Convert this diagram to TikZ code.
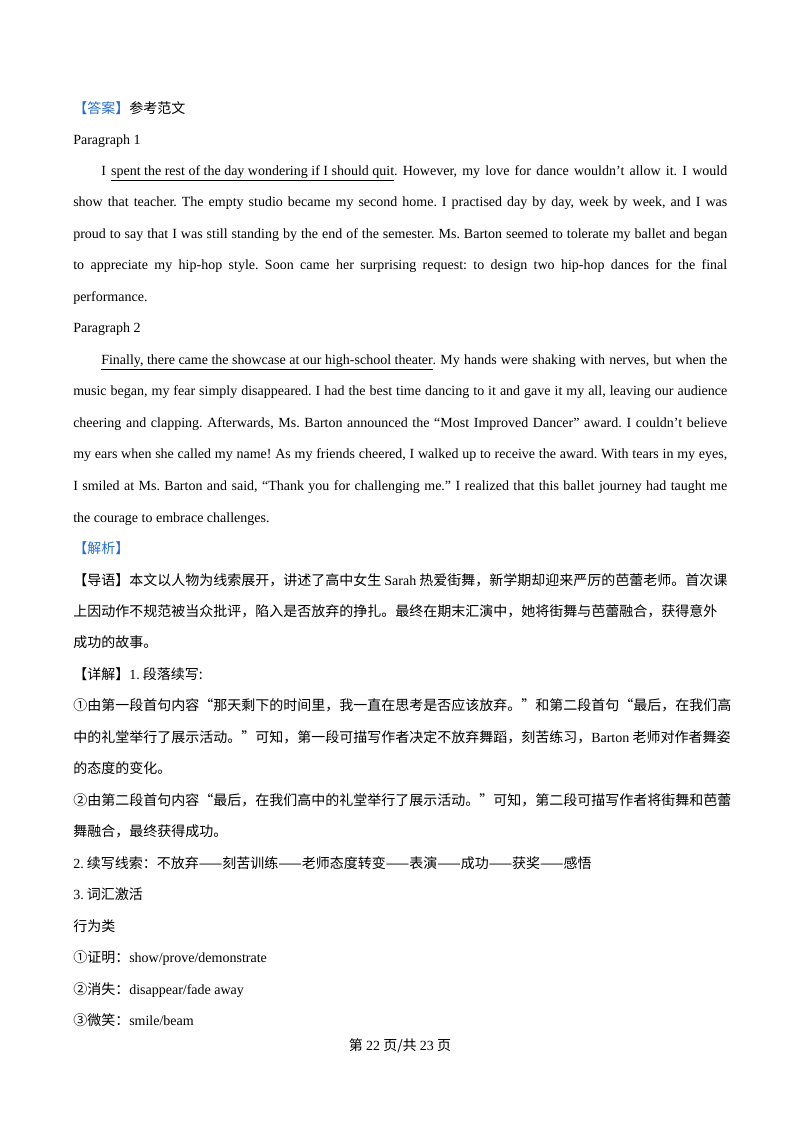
\documentclass[tikz,border=0pt]{standalone}
\usepackage{fontspec}
\setmainfont{Liberation Serif}
\newfontfamily\cjk{Noto Sans CJK SC}
\newfontfamily\en{Liberation Serif}
\definecolor{ansblue}{RGB}{40,110,200}
\frenchspacing
\newcommand{\jl}[1]{\makebox[490.5pt][s]{#1}}
\newcommand{\jli}[1]{\makebox[469.5pt][s]{#1}}
\begin{document}
\begin{tikzpicture}[x=0.75pt,y=-0.75pt,
  ln/.style={anchor=base west,inner sep=0pt,font=\fontsize{10.5pt}{12pt}\selectfont\frenchspacing},
  zh/.style={ln,font=\fontsize{10.5pt}{12pt}\selectfont\cjk}]
\useasboundingbox (0,0) rectangle (800,1132);
\node[zh] (a1) at (73,113) {\textcolor{ansblue}{【答案】}参考范文};
\node[ln] (p1) at (73,144) {Paragraph 1};
\node[ln] (l1) at (101,175) {\jli{I \underline{spent the rest of the day wondering if I should quit}. However, my love for dance wouldn’t allow it. I would}};
\node[ln] (l2) at (73,206) {\jl{show that teacher. The empty studio became my second home. I practised day by day, week by week, and I was}};
\node[ln] (l3) at (73,238) {\jl{proud to say that I was still standing by the end of the semester. Ms. Barton seemed to tolerate my ballet and began}};
\node[ln] (l4) at (73,269) {\jl{to appreciate my hip-hop style. Soon came her surprising request: to design two hip-hop dances for the final}};
\node[ln] (l5) at (73,301) {performance.};
\node[ln] (p2) at (73,332) {Paragraph 2};
\node[ln] (m1) at (101,364) {\jli{\underline{Finally, there came the showcase at our high-school theater}. My hands were shaking with nerves, but when the}};
\node[ln] (m2) at (73,395) {\jl{music began, my fear simply disappeared. I had the best time dancing to it and gave it my all, leaving our audience}};
\node[ln] (m3) at (73,427) {\jl{cheering and clapping. Afterwards, Ms. Barton announced the “Most Improved Dancer” award. I couldn’t believe}};
\node[ln] (m4) at (73,458) {\jl{my ears when she called my name! As my friends cheered, I walked up to receive the award. With tears in my eyes,}};
\node[ln] (m5) at (73,490) {\jl{I smiled at Ms. Barton and said, “Thank you for challenging me.” I realized that this ballet journey had taught me}};
\node[ln] (m6) at (73,522) {the courage to embrace challenges.};
\node[zh] (j1) at (73,553) {\textcolor{ansblue}{【解析】}};
\node[zh] (d1) at (73,585) {【导语】本文以人物为线索展开，讲述了高中女生 {\en Sarah} 热爱街舞，新学期却迎来严厉的芭蕾老师。首次课};
\node[zh] (d2) at (73,616) {上因动作不规范被当众批评，陷入是否放弃的挣扎。最终在期末汇演中，她将街舞与芭蕾融合，获得意外};
\node[zh] (d3) at (73,647) {成功的故事。};
\node[zh] (x1) at (73,679) {【详解】{\en 1.} 段落续写:};
\node[zh] (x2) at (73,710) {①由第一段首句内容“那天剩下的时间里，我一直在思考是否应该放弃。”和第二段首句“最后，在我们高};
\node[zh] (x3) at (73,742) {中的礼堂举行了展示活动。”可知，第一段可描写作者决定不放弃舞蹈，刻苦练习，{\en Barton} 老师对作者舞姿};
\node[zh] (x4) at (73,773) {的态度的变化。};
\node[zh] (x5) at (73,805) {②由第二段首句内容“最后，在我们高中的礼堂举行了展示活动。”可知，第二段可描写作者将街舞和芭蕾};
\node[zh] (x6) at (73,836) {舞融合，最终获得成功。};
\node[zh] (x7) at (73,868) {{\en 2.} 续写线索：不放弃——刻苦训练——老师态度转变——表演——成功——获奖——感悟};
\node[zh] (x8) at (73,899) {{\en 3.} 词汇激活};
\node[zh] (x9) at (73,931) {行为类};
\node[zh] (v1) at (73,962) {①证明：{\en show/prove/demonstrate}};
\node[zh] (v2) at (73,994) {②消失：{\en disappear/fade away}};
\node[zh] (v3) at (73,1025) {③微笑：{\en smile/beam}};
\node[zh,anchor=base] (ft) at (400,1050) {第 {\en 22} 页/共 {\en 23} 页};
\end{tikzpicture}
\end{document}
